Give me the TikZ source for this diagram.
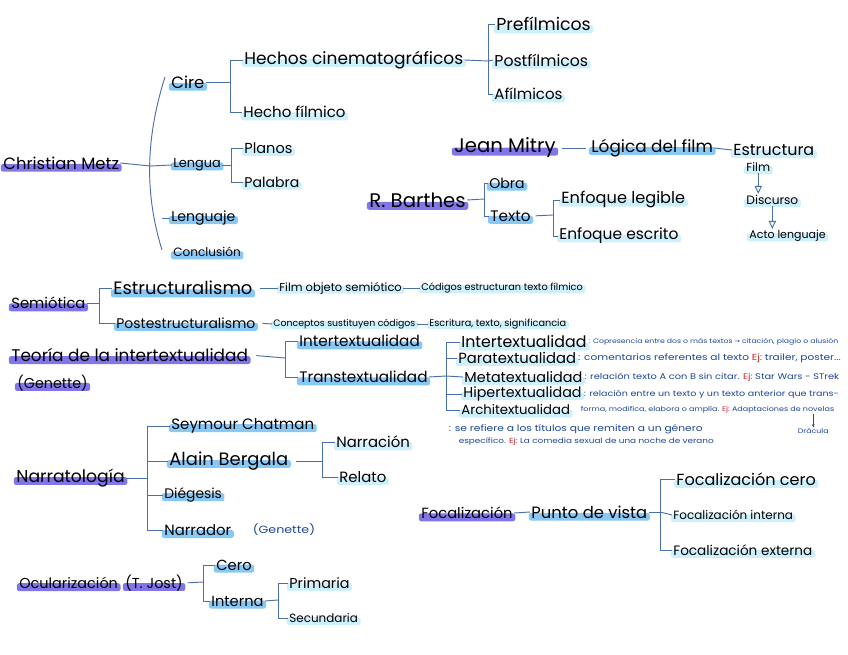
\documentclass[tikz,border=0pt]{standalone}
\usepackage{fontspec}
\setmainfont{Poppins}
\newfontfamily\notefont[FakeStretch=1.2]{Poppins}
\newfontfamily\sym{DejaVu Sans}
\usetikzlibrary{arrows.meta,positioning,backgrounds}
\definecolor{hlP}{RGB}{128,118,232}
\definecolor{hlB}{RGB}{135,200,245}
\definecolor{hlC}{RGB}{205,240,252}
\definecolor{lnBlue}{RGB}{74,112,170}
\definecolor{noteBlue}{RGB}{30,70,150}
\definecolor{ejRed}{RGB}{200,40,45}
\newcommand{\hw}[1]{\fontsize{#1}{#1}\selectfont}
\newcommand{\ej}{\textcolor{ejRed}{Ej:}}

\begin{document}
\begin{tikzpicture}[
  x=0.03cm, y=-0.03cm,
  hl/.style={append after command={\pgfextra{%
    \begin{pgfonlayer}{background}
      \fill[#1, rounded corners=2pt]
        ([xshift=-1pt,yshift=-2.2pt]\tikzlastnode.base west) rectangle
        ([xshift=1pt,yshift=4.6pt]\tikzlastnode.base east);
    \end{pgfonlayer}}}},
  tit/.style={anchor=west, inner sep=1pt, font=\hw{#1}, hl=hlP},
  tit/.default=12.5,
  sub/.style={anchor=west, inner sep=1pt, font=\hw{#1}, hl=hlB},
  sub/.default=12,
  leaf/.style={anchor=west, inner sep=1pt, font=\hw{#1}, hl=hlC},
  leaf/.default=12,
  note/.style={anchor=west, inner sep=0.5pt, text=noteBlue, font=\notefont\hw{#1}},
  note/.default=7,
  ln/.style={draw=lnBlue, line width=0.8pt},
  arr/.style={ln, -{Triangle[open, length=2.4mm, width=2.2mm]}}
]
\begin{scope}[on background layer]
  \fill[white] (0,0) rectangle (848,655);
\end{scope}
\useasboundingbox (0,0) rectangle (848,655);

% ---- Christian Metz ----
\node[tit=14]    (metz)    at (2,163)   {Christian Metz};
\node[sub=14]    (cire)    at (170,82)  {Cire};
\node[sub=11]    (lengua)  at (172,165) {Lengua};
\node[sub=12]    (lenguaje) at (170,218) {Lenguaje};
\node[sub=10.3]  (concl)   at (172,252) {Conclusión};
\node[leaf=14.5] (hechos)  at (243,60)  {Hechos cinematográficos};
\node[leaf=12.8] (hecho)   at (242,112) {Hecho fílmico};
\node[leaf=12.4] (planos)  at (243,148) {Planos};
\node[leaf=12]   (palabra) at (243,182) {Palabra};
\node[leaf=14.8] (pref)    at (495,24)  {Prefílmicos};
\node[leaf=13.4] (postf)   at (493,60)  {Postfílmicos};
\node[leaf=12.8] (afil)    at (493,94)  {Afílmicos};

\coordinate (bMetz) at (150,166);
\coordinate (bCire) at (230,82);
\coordinate (bLen)  at (231,165);
\coordinate (bHec)  at (488,61);

\draw[ln] (metz.east) -- (bMetz);
\draw[ln] (165,77) .. controls (145,140) and (145,195) .. (162,250);
\draw[ln] (bMetz) -- (lengua.west);
\draw[ln] (lenguaje.west) -- ++(-8,0);
\draw[ln] (cire.east) -- (bCire);
\draw[ln] (bCire) |- (hechos.west);
\draw[ln] (bCire) |- (hecho.west);
\draw[ln] (lengua.east) -- (bLen);
\draw[ln] (bLen) |- (planos.west);
\draw[ln] (bLen) |- (palabra.west);
\draw[ln] (hechos.east) -- (bHec);
\draw[ln] (bHec) |- (pref.west);
\draw[ln] (bHec) -- (postf.west);
\draw[ln] (bHec) |- (afil.west);

% ---- Jean Mitry ----
\node[tit=16.8]  (mitry)   at (453,148) {Jean Mitry};
\node[sub=14.4]  (logica)  at (590,148) {Lógica del film};
\node[leaf=13.6] (estr)    at (732,150) {Estructura};
\node[leaf=10]   (film)    at (745,167) {Film};
\node[leaf=10.4] (disc)    at (745,200) {Discurso};
\node[leaf=9.4]  (acto)    at (748,236) {Acto lenguaje};

\draw[ln, shorten <=4pt, shorten >=3pt] (mitry.east) -- (logica.west);
\draw[ln] (logica.east) -- (estr.west);
\draw[arr] (film.south) -- (film.south |- disc.north);
\draw[arr] (disc.south) -- (disc.south |- acto.north);

% ---- R. Barthes ----
\node[tit=16.8]  (barthes) at (368,200) {R. Barthes};
\node[sub=12]    (obra)    at (488,183) {Obra};
\node[sub=13]    (texto)   at (489,216) {Texto};
\node[leaf=13.8] (legible) at (560,200) {Enfoque legible};
\node[leaf=13.2] (escrito) at (558,236) {Enfoque escrito};

\coordinate (bBar) at (484,199);
\coordinate (bTex) at (553,215);

\draw[ln] (barthes.east) -- (bBar);
\draw[ln] (bBar) |- (obra.west);
\draw[ln] (bBar) |- (texto.west);
\draw[ln, shorten <=3pt] (texto.east) -- (bTex);
\draw[ln] (bTex) |- (legible.west);
\draw[ln] (bTex) |- (escrito.west);

% ---- Semiótica ----
\node[tit=12.6]  (semio)   at (10,303)  {Semiótica};
\node[sub=15.3]  (estru)   at (112,288) {Estructuralismo};
\node[sub=11.9]  (poste)   at (115,323) {Postestructuralismo};
\node[leaf=9.8]  (fobj)    at (278,288) {Film objeto semiótico};
\node[leaf=8.3]  (codig)   at (420,288) {Códigos estructuran texto fílmico};
\node[leaf=8]    (conce)   at (272,324) {Conceptos sustituyen códigos};
\node[leaf=8.3]  (escri)   at (428,324) {Escritura, texto, significancia};

\coordinate (bSem) at (99,303);

\draw[ln] (semio.east) -- (bSem);
\draw[ln] (bSem) |- (estru.west);
\draw[ln] (bSem) |- (poste.west);
\draw[ln, shorten <=5pt] (estru.east) -- (fobj.west);
\draw[ln] (fobj.east) -- (codig.west);
\draw[ln, shorten <=5pt] (poste.east) -- (conce.west);
\draw[ln] (conce.east) -- (escri.west);

% ---- Teoría de la intertextualidad ----
\node[tit=14.4]  (teoria)  at (10,355)  {Teoría de la intertextualidad};
\node[tit=12.2]  (genette) at (16,383)  {(Genette)};
\node[sub=13]    (inter)   at (298,341) {Intertextualidad};
\node[sub=13]    (trans)   at (298,377) {Transtextualidad};
\node[leaf=13.5] (iT)      at (460,342) {Intertextualidad};
\node[leaf=12.6] (pT)      at (457,358) {Paratextualidad};
\node[leaf=12.3] (mT)      at (463,377) {Metatextualidad};
\node[leaf=12.2] (hT)      at (462,394) {Hipertextualidad};
\node[leaf=11.3] (aT)      at (460,410) {Architextualidad};

\node[note=5.5] (iN)  at (iT.east)  {: Copresencia entre dos o más textos {\sym →} citación, plagio o alusión};
\node[note=7.5] (pN)  at (pT.east)  {: comentarios referentes al texto \ej\ trailer, poster...};
\node[note=7.0] (mN)  at (mT.east)  {: relación texto A con B sin citar. \ej\ Star Wars - STrek};
\node[note=6.8] (hN1) at (hT.east)  {: relación entre un texto y un texto anterior que trans-};
\node[note=5.7] (hN2) at (580,410)  {forma, modifica, elabora o amplía. \ej\ Adaptaciones de novelas};
\node[note=5.6] (drac) at (797,431) {Drácula};
\node[note=7.6] (aN1) at (448,429)  {: se refiere a los títulos que remiten a un género};
\node[note=6.3] (aN2) at (458,442)  {específico. \ej\ La comedia sexual de una noche de verano};

\coordinate (bTeo) at (285,358);
\coordinate (bTra) at (446,376);

\draw[ln, shorten <=6pt] (teoria.east) -- (bTeo);
\draw[ln] (bTeo) |- (inter.west);
\draw[ln] (bTeo) |- (trans.west);
\draw[ln] (trans.east) -- (bTra);
\draw[ln] (bTra) |- (iT.west);
\draw[ln] (bTra) |- (pT.west);
\draw[ln] (bTra) -- (mT.west);
\draw[ln] (bTra) |- (hT.west);
\draw[ln] (bTra) |- (aT.west);
\draw[noteBlue, -{Stealth[length=1mm]}] (hN2.south -| drac.north) -- (drac.north);

% ---- Narratología ----
\node[tit=14.7]  (narra)   at (15,478)  {Narratología};
\node[sub=12.8]  (seym)    at (170,426) {Seymour Chatman};
\node[sub=15.3]  (alain)   at (168,461) {Alain Bergala};
\node[sub=11.8]  (dieg)    at (163,495) {Diégesis};
\node[sub=12.7]  (narrd)   at (163,530) {Narrador};
\node[note=9]    (genB)    at (252,530) {(Genette)};
\node[leaf=12.7] (narrc)   at (335,442) {Narración};
\node[leaf=12.7] (relato)  at (338,477) {Relato};

\coordinate (bNar) at (147,478);
\coordinate (bAla) at (322,461);

\draw[ln] (narra.east) -- (bNar);
\draw[ln] (bNar) |- (seym.west);
\draw[ln] (bNar) |- (alain.west);
\draw[ln] (bNar) |- (dieg.west);
\draw[ln] (bNar) |- (narrd.west);
\draw[ln, shorten <=5pt] (alain.east) -- (bAla);
\draw[ln] (bAla) |- (narrc.west);
\draw[ln] (bAla) |- (relato.west);

% ---- Ocularización ----
\node[tit=12.3]  (ocul)    at (18,583)  {Ocularización};
\node[tit=12.3]  (jost)    at (124,583) {(T. Jost)};
\node[sub=12.5]  (cero)    at (215,565) {Cero};
\node[sub=12.5]  (interna) at (210,601) {Interna};
\node[leaf=12.2] (prim)    at (288,583) {Primaria};
\node[leaf=10.2] (secu)    at (288,618) {Secundaria};

\coordinate (bOcu) at (203,582);
\coordinate (bInt) at (278,600);

\draw[ln, shorten <=3pt] (jost.east) -- (bOcu);
\draw[ln] (bOcu) |- (cero.west);
\draw[ln] (bOcu) |- (interna.west);
\draw[ln] (interna.east) -- (bInt);
\draw[ln] (bInt) |- (prim.west);
\draw[ln] (bInt) |- (secu.west);

% ---- Focalización ----
\node[tit=12.6]  (foca)    at (420,513) {Focalización};
\node[sub=14]    (punto)   at (530,512) {Punto de vista};
\node[leaf=13.7] (fcero)   at (675,479) {Focalización cero};
\node[leaf=10.2] (fint)    at (672,515) {Focalización interna};
\node[leaf=11.6] (fext)    at (672,550) {Focalización externa};

\coordinate (bPun) at (660,512);

\draw[ln] (foca.east) -- (punto.west);
\draw[ln] (punto.east) -- (bPun);
\draw[ln] (bPun) |- (fcero.west);
\draw[ln] (bPun) -- (fint.west);
\draw[ln] (bPun) |- (fext.west);

\end{tikzpicture}
\end{document}
